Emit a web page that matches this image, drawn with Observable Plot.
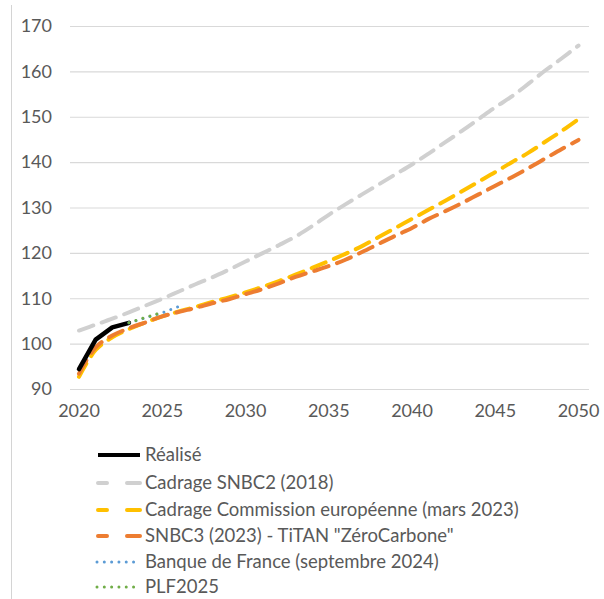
<!DOCTYPE html>
<html><head><meta charset="utf-8">
<script src="https://cdn.jsdelivr.net/npm/d3@7"></script>
<script src="https://cdn.jsdelivr.net/npm/@observablehq/plot@0.6"></script>
<style>
body{margin:0;background:#fff;font-family:Lato, sans-serif;}
#wrap{position:relative;width:604px;height:599px;overflow:hidden;}
#border{position:absolute;left:10.5px;top:5px;width:1px;height:594px;background:#d4d4d4;}
#legend{position:absolute;left:0;top:430px;}
#chart{position:absolute;left:0;top:0;}
</style></head><body><div id="wrap"><div id="chart"></div><div id="legend"></div><div id="border"></div></div>
<script>
// ---- data ----
const scenYears = [2020,2021,2022,2023,2024,2025,2026,2027,2028,2029,2030,2031,2032,2033,2034,2035,2036,2037,2038,2039,2040,2041,2042,2043,2044,2045,2046,2047,2048,2049,2050];
const snbc2Values = [103.0,104.3,105.6,107.0,108.5,110.0,111.6,113.2,114.7,116.4,118.2,120.0,121.8,123.7,126.0,128.5,130.8,133.0,135.2,137.4,139.6,142.0,144.5,147.0,149.6,152.2,154.6,157.4,160.3,163.0,165.8];
const ceValues = [92.8,98.7,101.5,103.3,104.8,106.1,107.2,108.2,109.3,110.3,111.4,112.6,113.9,115.3,116.8,118.3,119.9,121.6,123.6,125.6,127.6,129.6,131.6,133.7,135.8,137.9,140.1,142.2,144.6,147.0,149.6];
const snbc3Values = [93.5,99.3,101.9,103.5,104.8,106.1,107.1,108.0,109.0,109.9,111.0,112.1,113.4,114.8,116.0,117.2,118.6,120.3,122.1,123.9,125.6,127.6,129.3,131.1,133.0,134.9,136.8,138.8,140.9,143.0,145.0];
const realYears = [2020,2021,2022,2023];
const realValues = [94.5,101.0,103.7,104.7];
const bdfYears = [2023,2024,2025,2026];
const bdfValues = [104.7,105.8,106.9,108.3];
const plfYears = [2023,2024,2025];
const plfValues = [104.7,105.9,107.0];
const xTicks = [2020,2025,2030,2035,2040,2045,2050];
const yTicks = [90,100,110,120,130,140,150,160,170];
const seriesNames = ["Réalisé","Cadrage SNBC2 (2018)","Cadrage Commission européenne (mars 2023)","SNBC3 (2023) - TiTAN \"ZéroCarbone\"","Banque de France (septembre 2024)","PLF2025"];
const seriesColors = ["#000000","#d0d0d0","#ffc000","#ed7d31","#5b9bd5","#70ad47"];

const zip = (xs, ys) => xs.map((x, i) => ({x, y: ys[i]}));
const sReal = zip(realYears, realValues);
const sSnbc2 = zip(scenYears, snbc2Values);
const sCe = zip(scenYears, ceValues);
const sSnbc3 = zip(scenYears, snbc3Values);
const sBdf = zip(bdfYears, bdfValues);
const sPlf = zip(plfYears, plfValues);

const dash = "15 9";
const dot = "0.01 7.3";

const chart = Plot.plot({
  width: 604, height: 430,
  marginLeft: 78.5, marginRight: 26, marginTop: 26, marginBottom: 41,
  style: {fontFamily: "Lato, sans-serif", fontSize: "18px", color: "#595959", background: "transparent"},
  x: {domain: [2020, 2050]},
  y: {domain: [90, 170]},
  marks: [
    Plot.ruleY(yTicks, {y: d => d, x1: 2019.49, x2: 2050.66, stroke: "#d9d9d9", strokeWidth: 1.2}),
    Plot.axisY({ticks: yTicks, tickSize: 0, tickPadding: 27, fontSize: 18, label: null}),
    Plot.axisX({ticks: xTicks, tickSize: 0, tickPadding: 15, fontSize: 18, tickFormat: d => String(d), label: null}),
    Plot.line(sSnbc2, {x: "x", y: "y", stroke: seriesColors[1], strokeWidth: 4, strokeDasharray: dash, strokeLinecap: "round", curve: "catmull-rom"}),
    Plot.line(sCe, {x: "x", y: "y", stroke: seriesColors[2], strokeWidth: 4, strokeDasharray: dash, strokeLinecap: "round", curve: "catmull-rom"}),
    Plot.line(sSnbc3, {x: "x", y: "y", stroke: seriesColors[3], strokeWidth: 4, strokeDasharray: dash, strokeLinecap: "round", curve: "catmull-rom"}),
    Plot.line(sReal, {x: "x", y: "y", stroke: seriesColors[0], strokeWidth: 4.5, strokeLinecap: "round", strokeLinejoin: "round"}),
    Plot.line(sBdf, {x: "x", y: "y", stroke: seriesColors[4], strokeWidth: 3, strokeDasharray: dot, strokeLinecap: "round"}),
    Plot.line(sPlf, {x: "x", y: "y", stroke: seriesColors[5], strokeWidth: 3, strokeDasharray: dot, strokeLinecap: "round"})
  ]
});
document.getElementById("chart").appendChild(chart);

// ---- legend ----
const legendDash = [null, "9 20 14 60", "9 20 14 60", "9 20 14 60", dot, dot];
const legendWidth = [4, 4, 4, 4, 3, 3];
const rowY = [25, 53, 80, 106, 132, 157];
const lsvg = d3.select("#legend").append("svg").attr("width", 604).attr("height", 169);
seriesNames.forEach((name, i) => {
  const g = lsvg.append("g").attr("transform", `translate(0,${rowY[i]})`);
  g.append("line").attr("x1", i >= 4 ? 97 : 98).attr("x2", 140).attr("y1", 0).attr("y2", 0)
    .attr("stroke", seriesColors[i]).attr("stroke-width", legendWidth[i])
    .attr("stroke-linecap", i === 0 ? "butt" : "round")
    .attr("stroke-dasharray", legendDash[i]);
  g.append("text").attr("x", 145).attr("y", 0).attr("dy", "0.35em")
    .attr("fill", "#595959").attr("font-size", 18.5).attr("font-family", "Lato, sans-serif")
    .text(name);
});
</script></body></html>
